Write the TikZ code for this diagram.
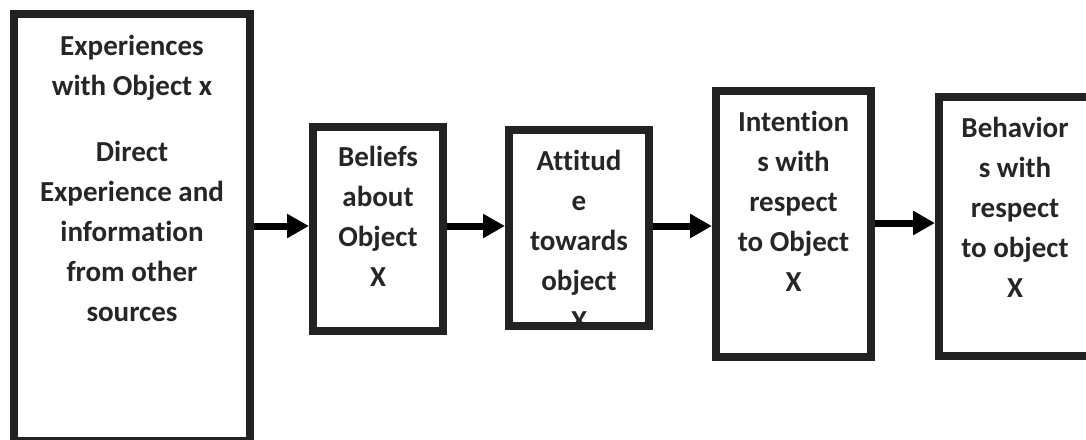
\documentclass[tikz,border=0pt]{standalone}
\usepackage{fontspec}
\setmainfont{Carlito}[Ligatures=NoCommon]
\usetikzlibrary{arrows.meta}
\definecolor{boxcol}{HTML}{222222}
\definecolor{txtcol}{HTML}{262626}
\begin{document}
\begin{tikzpicture}[x=1pt,y=-1pt,
  boxnode/.style={draw=boxcol, line width=8pt, inner sep=0pt, rectangle},
  txt/.style={text=txtcol, font=\fontsize{29}{40}\selectfont\bfseries, align=center, inner sep=0pt, anchor=north},
  arr/.style={line width=7pt, -{Triangle[length=22pt,width=23pt]}, black}]
\useasboundingbox (0,0) rectangle (1086,439);
\clip (0,0) rectangle (1086,439);
% texts
\node[txt] (t1) at (132,27) {\strut Experiences\\ with Object x\\[26pt] Direct\\ Experience and\\ information\\ from other\\ sources};
\node[txt] (t2) at (378,138) {\strut Beliefs\\ about\\ Object\\ X};
\node[txt] (t3) at (579,142) {\strut Attitud\\ e\\ towards\\ object\\ X};
\node[txt] (t4) at (793.5,103) {\strut Intention\\ s with\\ respect\\ to Object\\ X};
\node[txt] (t5) at (1015,109) {\strut Behavior\\ s with\\ respect\\ to object\\ X};
% boxes
\node[boxnode, minimum width=236pt, minimum height=427pt] (exp) at (132,227.5) {};
\node[boxnode, minimum width=130pt, minimum height=204pt] (bel) at (378,229) {};
\node[boxnode, minimum width=140pt, minimum height=196pt] (att) at (579,228) {};
\node[boxnode, minimum width=155pt, minimum height=266pt] (int) at (793.5,224) {};
\node[boxnode, minimum width=152pt, minimum height=259pt] (beh) at (1015,226.5) {};
% arrows
\coordinate (r1) at (0,226);
\coordinate (r4) at (0,223);
\draw[arr] (exp.east |- r1) -- (bel.west |- r1);
\draw[arr] (bel.east |- r1) -- (att.west |- r1);
\draw[arr] (att.east |- r1) -- (int.west |- r1);
\draw[arr] (int.east |- r4) -- (beh.west |- r4);
\end{tikzpicture}
\end{document}
